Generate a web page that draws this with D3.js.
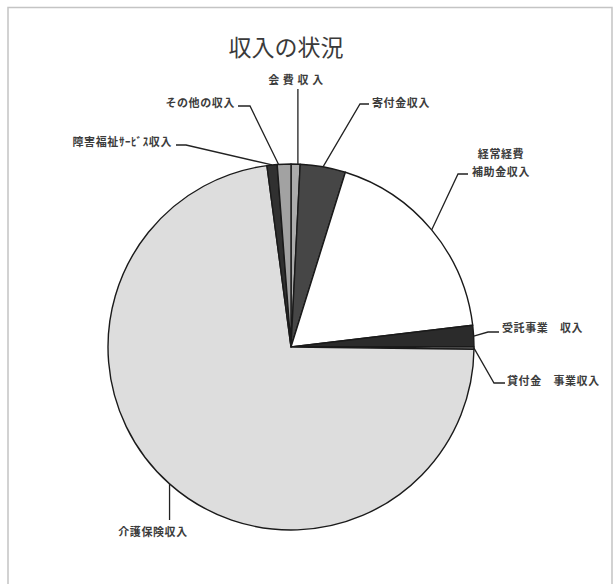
<!DOCTYPE html>
<html><head><meta charset="utf-8">
<script src="https://cdn.jsdelivr.net/npm/d3@7"></script>
<style>html,body{margin:0;padding:0;background:#fff;}svg{display:block;}</style>
</head><body>
<svg id="c" width="614" height="584"></svg>
<script>
// ---- data ----
const categories = ["会費収入","寄付金収入","経常経費補助金収入","受託事業収入","貸付金事業収入","介護保険収入","障害福祉サービス収入","その他の収入"];
const values = [0.8, 4.0, 18.3, 1.9, 0.2, 72.7, 0.9, 1.2];
const labelTexts = [["会 費 収 入"],["寄付金収入"],["経常経費","補助金収入"],["受託事業　収入"],["貸付金　事業収入"],["介護保険収入"],["障害福祉ｻｰﾋﾞｽ収入"],["その他の収入"]];
const title = "収入の状況";

// ---- styles / layout ----
const fills = ["#ababab","#464646","#ffffff","#2b2b2b","#d2d2d2","#dddddd","#303030","#a2a2a2"];
// t: fraction inside the slice where the leader touches; pts: elbow points; text position & anchor
const layout = [
  {t:0.75, pts:[[null,89]], x:296, y:80, anchor:"middle"},
  {t:0.5, pts:[[360,104],[369,104]], x:372, y:103, anchor:"start"},
  {t:0.5, pts:[[458,174],[468,174]], x:501, y:154, anchor:"middle"},
  {t:0.5, pts:[[488,332],[499,332]], x:502, y:328, anchor:"start"},
  {t:0.5, pts:[[494,383],[505,383]], x:507, y:381, anchor:"start"},
  {t:0.5, pts:[[null,520]], x:153, y:532, anchor:"middle"},
  {t:0.5, pts:[[186,145],[176,145]], x:172, y:142, anchor:"end"},
  {t:0.1, pts:[[250,106],[238,106]], x:235, y:103, anchor:"end"}
];
const cx = 291, cy = 347, R = 183;

const svg = d3.select("#c");
// frame
svg.append("path").attr("d","M8,590 L8,7.5 L612,7.5 L612,590")
  .attr("fill","none").attr("stroke","#c4c4c4").attr("stroke-width",1.5);

svg.append("text").attr("x",286).attr("y",56).attr("text-anchor","middle")
  .attr("font-family","'Noto Sans CJK JP','Noto Sans',sans-serif").attr("font-size",23)
  .attr("font-weight",400).attr("fill","#3a3a3a").text(title);

const pie = d3.pie().sort(null).value(d=>d).startAngle(0).endAngle(2*Math.PI);
const arcs = pie(values);
const arc = d3.arc().innerRadius(0).outerRadius(R);

const g = svg.append("g").attr("transform",`translate(${cx},${cy})`);
g.selectAll("path.slice").data(arcs).join("path").attr("class","slice")
  .attr("d",arc).attr("fill",(d,i)=>fills[i])
  .attr("stroke","#1a1a1a").attr("stroke-width",1.4).attr("stroke-linejoin","round");

// leaders & labels
const pt = a => [cx + R*Math.sin(a), cy - R*Math.cos(a)];
arcs.forEach((d,i)=>{
  const L = layout[i];
  const a = d.startAngle + (d.endAngle-d.startAngle)*L.t;
  const p0 = pt(a);
  const pts = [p0].concat(L.pts.map(p=>[p[0]===null?p0[0]:p[0], p[1]]));
  svg.append("path").attr("d", d3.line()(pts)).attr("fill","none")
    .attr("stroke","#222").attr("stroke-width",1.3);
  const t = svg.append("text").attr("text-anchor",L.anchor)
    .attr("font-family","'Noto Sans CJK JP','Noto Sans',sans-serif")
    .attr("font-size",11).attr("font-weight",700).attr("fill","#3c3c3c")
    .attr("letter-spacing",0.6);
  labelTexts[i].forEach((s,k)=>{
    t.append("tspan").attr("x",L.x).attr("y",L.y + k*18).attr("dy","0.35em").text(s);
  });
});
</script>
</body></html>
